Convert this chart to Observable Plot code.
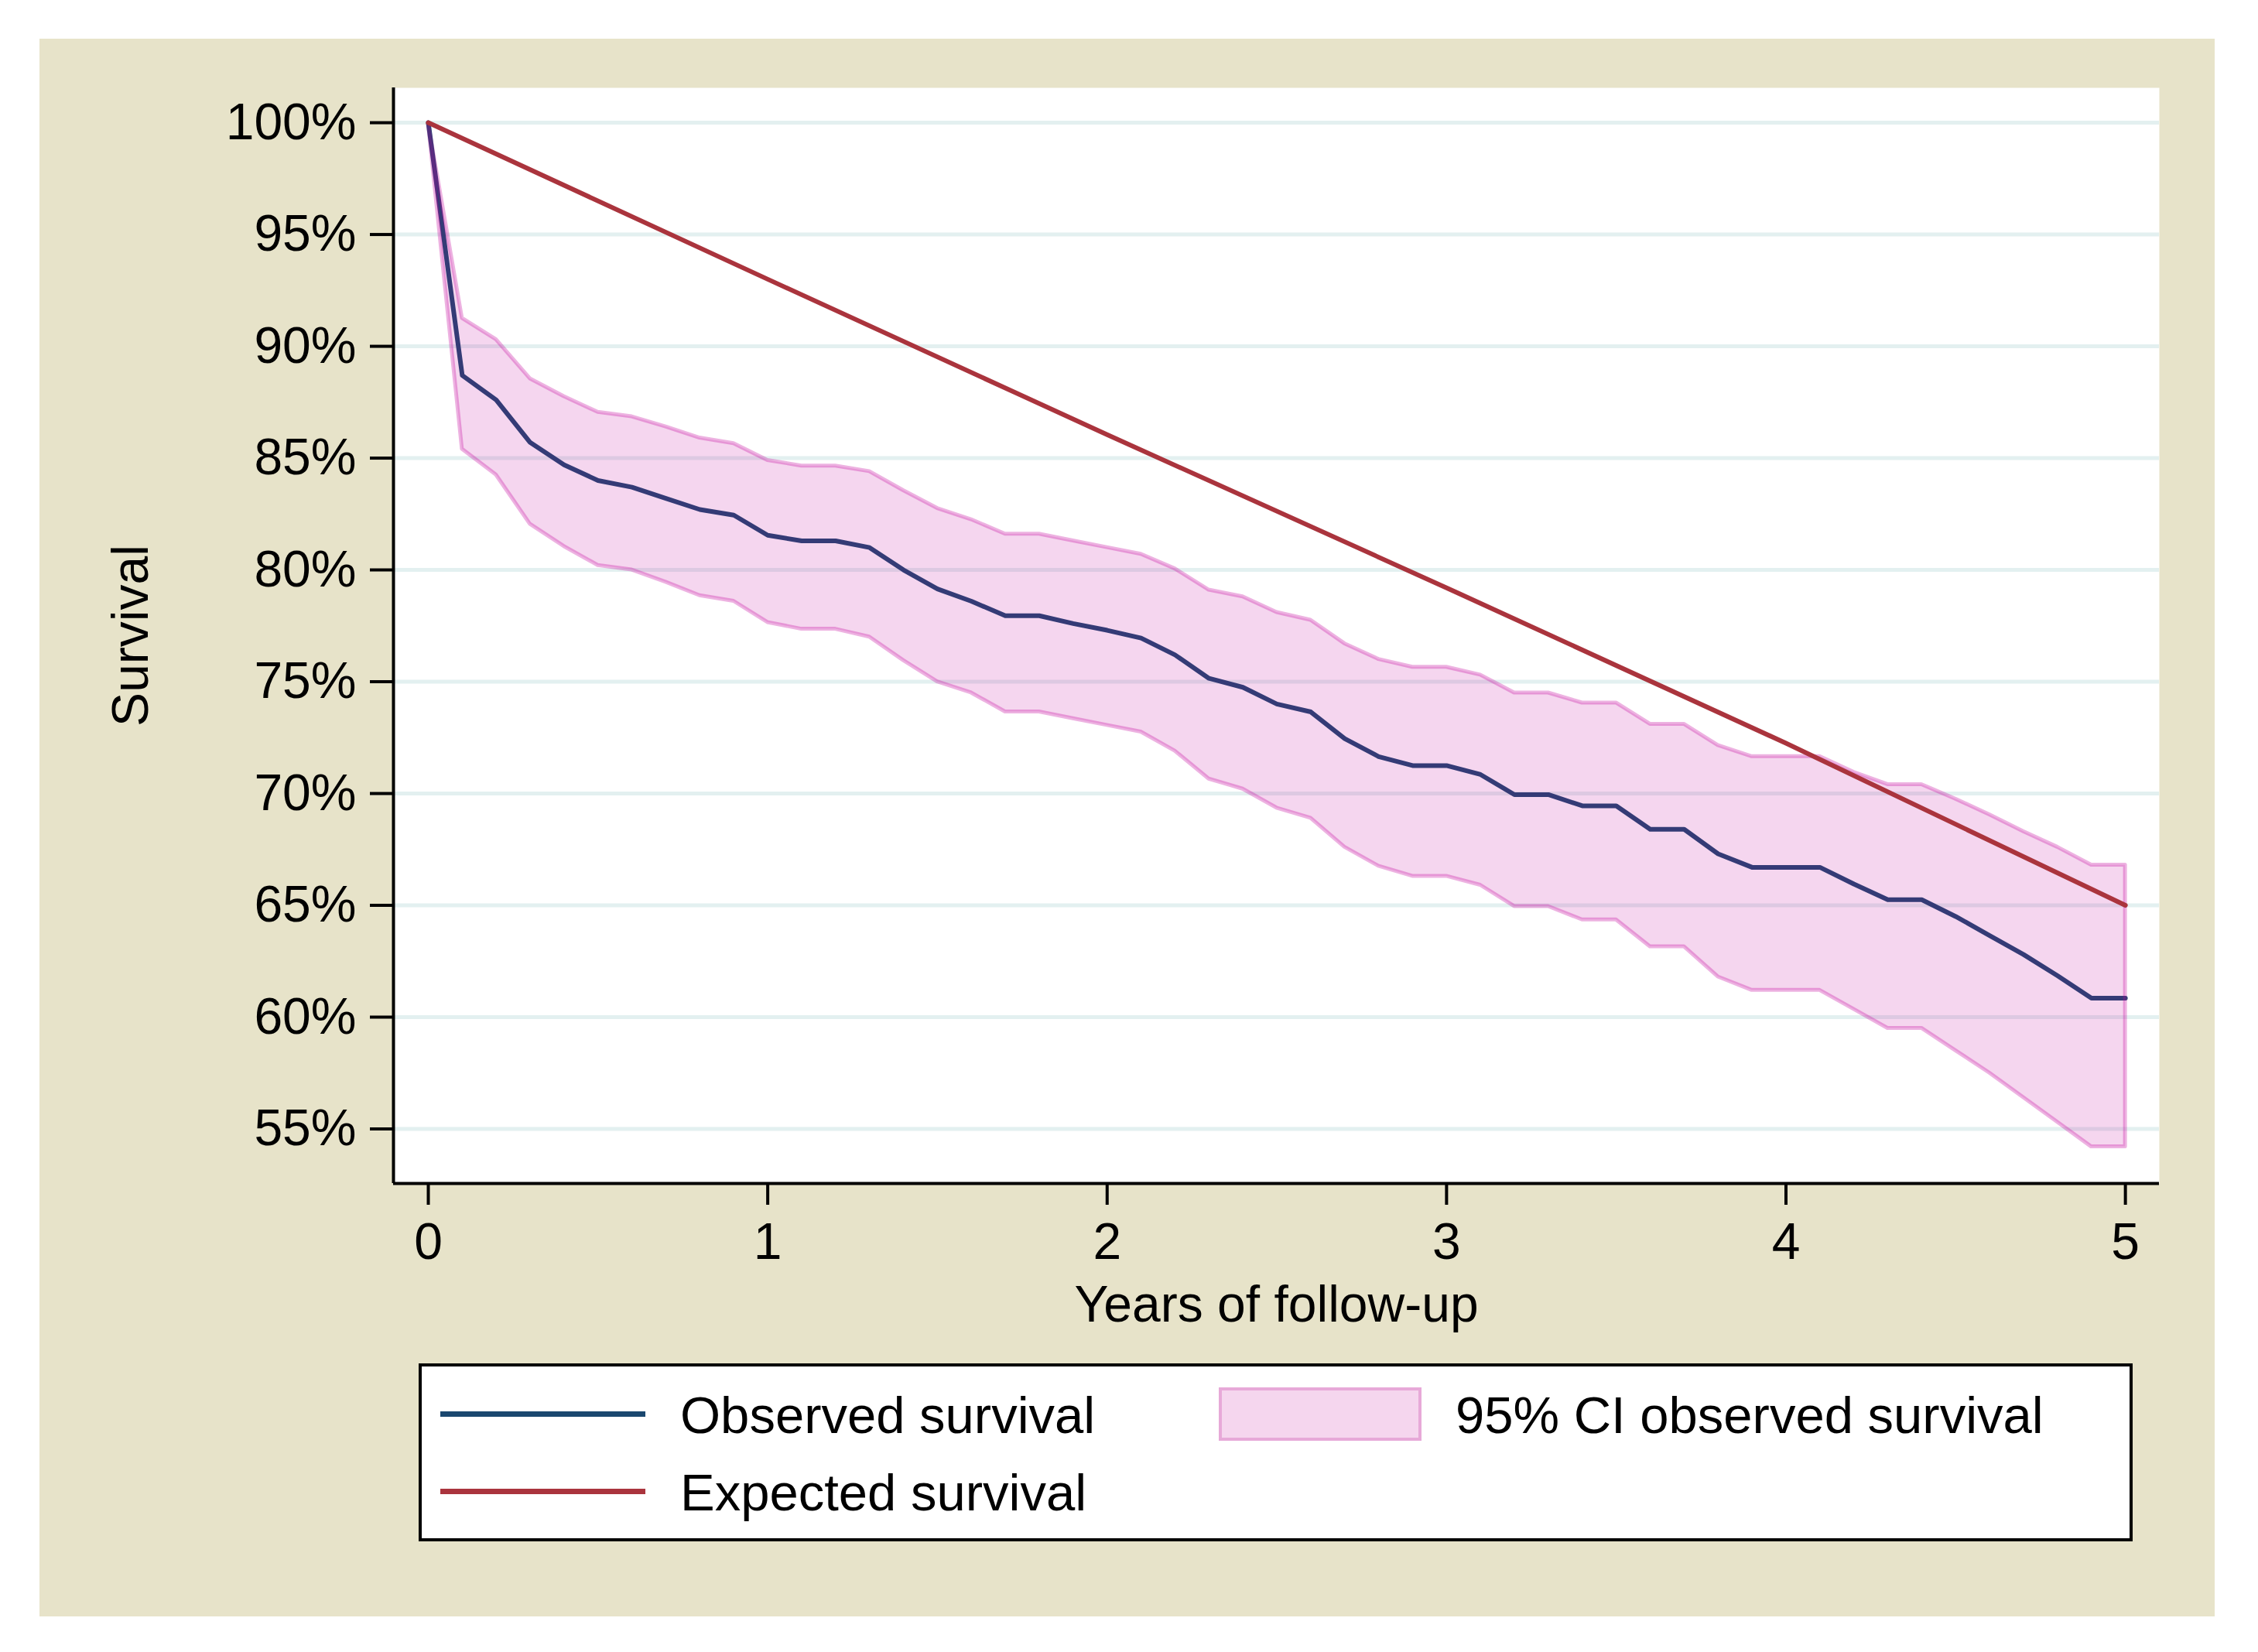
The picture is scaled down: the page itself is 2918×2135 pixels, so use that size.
<!DOCTYPE html>
<html>
<head>
<meta charset="utf-8">
<script src="https://cdn.jsdelivr.net/npm/d3@7"></script>
<script src="https://cdn.jsdelivr.net/npm/@observablehq/plot@0.6"></script>
<style>
  html, body { margin: 0; padding: 0; background: #ffffff; }
  #page { position: relative; width: 2918px; height: 2135px; background: #ffffff; overflow: hidden;
          font-family: "Liberation Sans", Arial, Helvetica, sans-serif; }
  #bg { position: absolute; left: 51px; top: 50px; width: 2811px; height: 2039px; background: #e7e3c9; }
  #chart { position: absolute; left: 0; top: 0; }
  #legend { position: absolute; left: 541px; top: 1762px; width: 2215px; height: 230px; box-sizing: border-box;
            border: 4px solid #000; background: #fff; }
  .sw { position: absolute; height: 7px; }
  .lt { position: absolute; font-size: 67px; line-height: 1; color: #000; white-space: nowrap; transform: translateY(-50%); }
  .box { position: absolute; box-sizing: border-box; }
</style>
</head>
<body>
<div id="page">
  <div id="bg"></div>
  <div id="chart"></div>
  <div id="legend"></div>
</div>
<script>
// ---- data ----
const years = [0, 0.1, 0.2, 0.3, 0.4, 0.5, 0.6, 0.7, 0.8, 0.9,
               1.0, 1.1, 1.2, 1.3, 1.4, 1.5, 1.6, 1.7, 1.8, 1.9,
               2.0, 2.1, 2.2, 2.3, 2.4, 2.5, 2.6, 2.7, 2.8, 2.9,
               3.0, 3.1, 3.2, 3.3, 3.4, 3.5, 3.6, 3.7, 3.8, 3.9,
               4.0, 4.1, 4.2, 4.3, 4.4, 4.5, 4.6, 4.7, 4.8, 4.9, 5.0];
const observed = [100, 88.7, 87.6, 85.7, 84.7, 84.0, 83.7, 83.2, 82.7, 82.45,
                  81.55, 81.3, 81.3, 81.0, 80.0, 79.15, 78.6, 77.95, 77.95, 77.6,
                  77.3, 76.95, 76.2, 75.15, 74.75, 74.0, 73.65, 72.45, 71.65, 71.25,
                  71.25, 70.85, 69.95, 69.95, 69.45, 69.45, 68.4, 68.4, 67.3, 66.7,
                  66.7, 66.7, 65.95, 65.25, 65.25, 64.5, 63.65, 62.8, 61.85, 60.85, 60.85];
const ciUpper = [100, 91.25, 90.3, 88.55, 87.75, 87.05, 86.85, 86.4, 85.9, 85.65,
                 84.9, 84.65, 84.65, 84.4, 83.55, 82.75, 82.25, 81.6, 81.6, 81.3,
                 81.0, 80.7, 80.05, 79.1, 78.8, 78.1, 77.75, 76.7, 76.0, 75.65,
                 75.65, 75.3, 74.5, 74.5, 74.05, 74.05, 73.1, 73.1, 72.15, 71.65,
                 71.65, 71.65, 70.95, 70.4, 70.4, 69.75, 69.05, 68.3, 67.6, 66.8, 66.8];
const ciLower = [100, 85.4, 84.25, 82.05, 81.05, 80.2, 80.0, 79.45, 78.85, 78.6,
                 77.65, 77.35, 77.35, 77.0, 75.95, 75.0, 74.5, 73.65, 73.65, 73.35,
                 73.05, 72.75, 71.9, 70.65, 70.2, 69.35, 68.9, 67.6, 66.75, 66.3,
                 66.3, 65.9, 64.95, 64.95, 64.35, 64.35, 63.15, 63.15, 61.8, 61.2,
                 61.2, 61.2, 60.35, 59.5, 59.5, 58.5, 57.5, 56.4, 55.3, 54.2, 54.2];
const expectedYears = [0, 1, 2, 3, 4, 5];
const expected = [100, 93.0, 86.05, 79.2, 72.25, 65.0];

const xTicks = [0, 1, 2, 3, 4, 5];
const yTicks = [55, 60, 65, 70, 75, 80, 85, 90, 95, 100];
const xDomain = [-0.1026, 5.1];
const yDomain = [52.56, 101.56];

const xTitle = "Years of follow-up";
const yTitle = "Survival";
const legendLabels = ["Observed survival", "Expected survival", "95% CI observed survival"];

// ---- styles ----
const navy = "#1a476f";
const maroon = "#aa343d";
const ciColor = "#c2009a";
const font = "'Liberation Sans', Arial, Helvetica, sans-serif";

const rows = years.map((t, i) => ({t, obs: observed[i], hi: ciUpper[i], lo: ciLower[i]}));
const expRows = expectedYears.map((t, i) => ({t, v: expected[i]}));

const chart = Plot.plot({
  width: 2918,
  height: 1740,
  marginLeft: 508,
  marginRight: 128,
  marginTop: 113,
  marginBottom: 211,
  style: {background: "transparent", fontFamily: font, fontSize: "66px", color: "#000", overflow: "visible"},
  x: {domain: xDomain},
  y: {domain: yDomain},
  marks: [
    Plot.frame({fill: "#ffffff", stroke: "none"}),
    Plot.gridY(yTicks, {stroke: "#e3f0f0", strokeOpacity: 1, strokeWidth: 5}),
    Plot.line(rows, {x: "t", y: "obs", stroke: navy, strokeWidth: 6, strokeLinejoin: "round"}),
    Plot.areaY(rows, {x: "t", y1: "lo", y2: "hi", fill: ciColor, fillOpacity: 0.16,
                      stroke: ciColor, strokeOpacity: 0.3, strokeWidth: 5, strokeLinejoin: "round"}),
    Plot.line(expRows, {x: "t", y: "v", stroke: maroon, strokeWidth: 6}),
    Plot.ruleX([xDomain[0]], {stroke: "#000", strokeWidth: 4}),
    Plot.ruleY([yDomain[0]], {stroke: "#000", strokeWidth: 4}),
    Plot.axisY(yTicks, {tickSize: 30, tickPadding: 18, tickFormat: d => d + "%", strokeWidth: 4,
                        fontSize: 66, label: null}),
    Plot.axisX(xTicks, {tickSize: 28, tickPadding: 23, tickFormat: d => String(d), strokeWidth: 4,
                        fontSize: 66, label: null}),
    Plot.text([yTitle], {text: d => d, frameAnchor: "left", dx: -339, rotate: -90, fontSize: 66, fill: "#000",
                         textAnchor: "middle", lineAnchor: "middle"}),
    Plot.text([xTitle], {text: d => d, frameAnchor: "bottom", dy: 157, fontSize: 66, fill: "#000",
                         textAnchor: "middle", lineAnchor: "middle"})
  ]
});
document.getElementById("chart").appendChild(chart);

// ---- legend ----
const lg = document.getElementById("legend");
function add(html) { lg.insertAdjacentHTML("beforeend", html); }
add(`<div class="sw" style="left:24px;top:58px;width:265px;background:${navy}"></div>`);
add(`<div class="lt" style="left:334px;top:62px">${legendLabels[0]}</div>`);
add(`<div class="sw" style="left:24px;top:158px;width:265px;background:${maroon}"></div>`);
add(`<div class="lt" style="left:334px;top:162px">${legendLabels[1]}</div>`);
add(`<div class="box" style="left:1030px;top:27px;width:262px;height:69px;background:#f5d6ee;border:4px solid #e7a9d8"></div>`);
add(`<div class="lt" style="left:1336px;top:62px">${legendLabels[2]}</div>`);
</script>
</body>
</html>
